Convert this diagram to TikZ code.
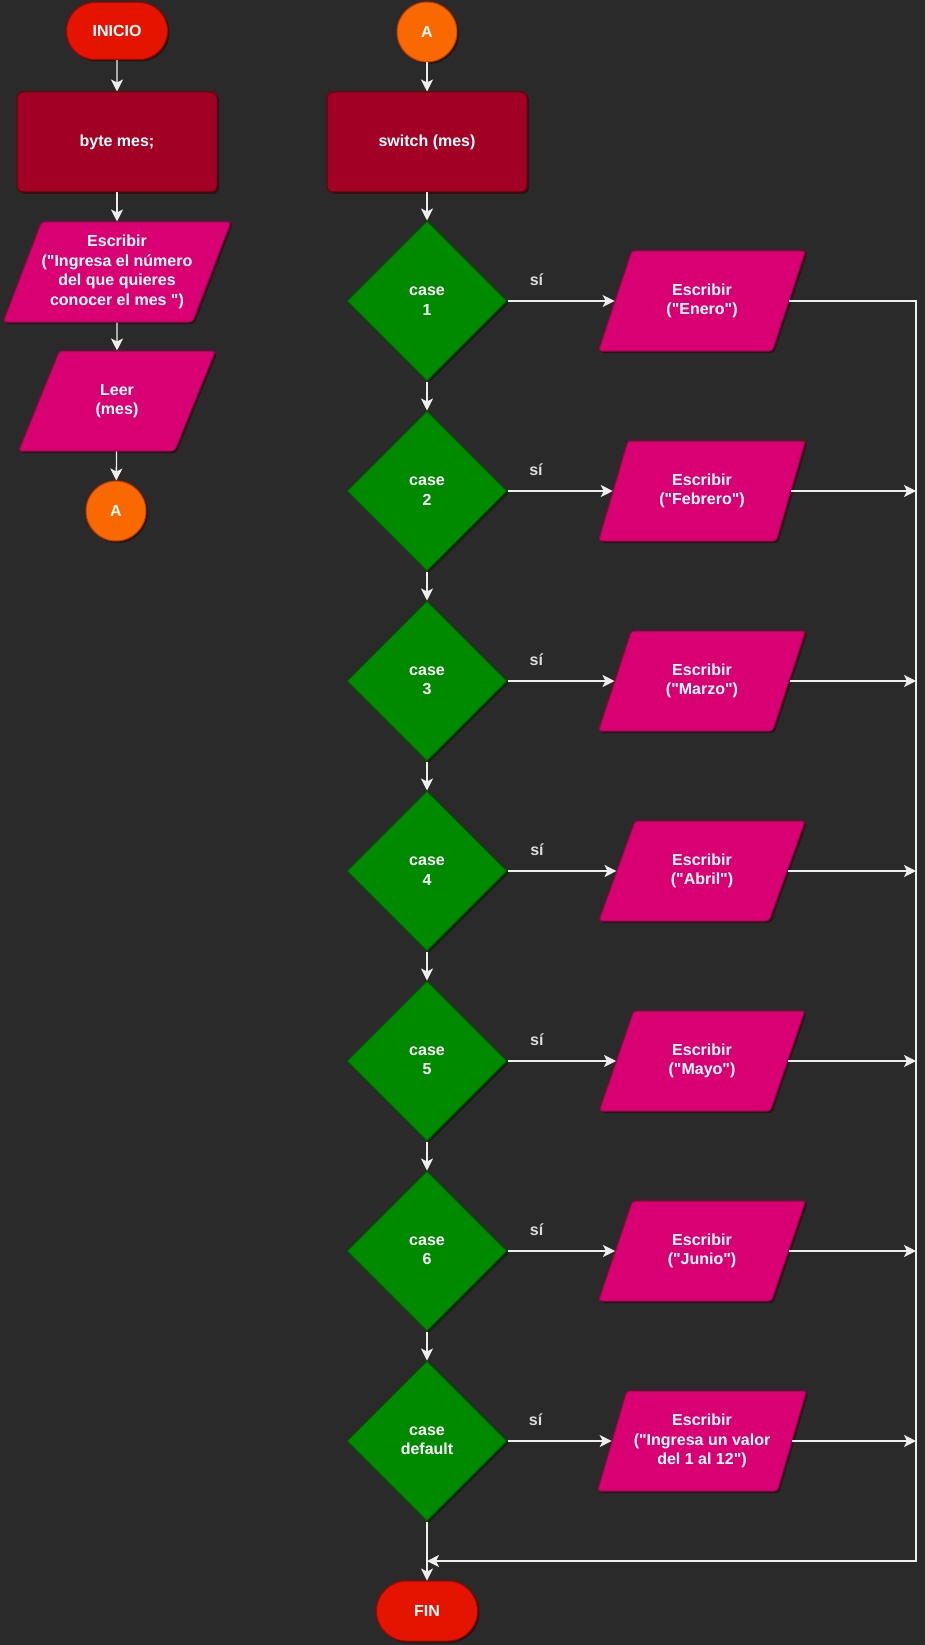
\documentclass[tikz,border=0pt]{standalone}
\usepackage{fontspec}
\setmainfont{Liberation Sans}[Ligatures=TeXOff]
\usetikzlibrary{shapes.geometric}
\usetikzlibrary{shapes.misc}
\usetikzlibrary{arrows.meta}
\usetikzlibrary{shadows}
\definecolor{bgdark}{HTML}{2A2A2A}
\definecolor{termfill}{HTML}{E51400}
\definecolor{termline}{HTML}{B20000}
\definecolor{procfill}{HTML}{A20025}
\definecolor{procline}{HTML}{6F0000}
\definecolor{iofill}{HTML}{D80073}
\definecolor{ioline}{HTML}{A50040}
\definecolor{casefill}{HTML}{008A00}
\definecolor{caseline}{HTML}{005700}
\definecolor{connfill}{HTML}{FA6800}
\definecolor{connline}{HTML}{C73500}
\definecolor{flowline}{HTML}{EEEEEE}
\definecolor{sigray}{HTML}{DDDDDD}
\tikzset{
	flownode/.style = {
		align=center,
		inner sep=0pt,
		text centered,
		text=white,
		font=\fontsize{16}{19.5}\selectfont\bfseries,
		line width=1pt,
		drop shadow={shadow xshift=2pt, shadow yshift=-2pt, opacity=0.35, fill=black}
	},
	node_term/.style = {
		flownode,
		rounded rectangle,
		fill=termfill,
		draw=termline,
		minimum width=101pt,
		minimum height=57pt
	},
	node_proc/.style = {
		flownode,
		rectangle,
		rounded corners=6pt,
		fill=procfill,
		draw=procline,
		minimum width=200pt,
		minimum height=100pt
	},
	node_io/.style = {
		flownode,
		trapezium,
		trapezium stretches=true,
		trapezium left angle=64,
		trapezium right angle=116,
		rounded corners=3pt,
		fill=iofill,
		draw=ioline,
		minimum width=207pt,
		minimum height=100pt
	},
	node_case/.style = {
		flownode,
		diamond,
		aspect=1,
		fill=casefill,
		draw=caseline,
		minimum width=160pt,
		minimum height=160pt
	},
	node_conn/.style = {
		flownode,
		circle,
		fill=connfill,
		draw=connline,
		minimum size=60pt
	},
	lbl_si/.style = {
		pos=0.27,
		yshift=21pt,
		text=sigray,
		font=\fontsize{16}{19.5}\selectfont\bfseries
	},
}
\begin{document}
\begin{tikzpicture}[x=1pt, y=-1pt, ->, >={Stealth[length=12pt, width=12pt, inset=3pt, fill=flowline]}, line width=1.3pt, color=flowline]
\fill [bgdark, -] (0,0) rectangle (925,1645);

% left column
\node [node_term] (inicio) at (117,31) {INICIO};
\node [node_proc] (decl) at (117,142) {byte mes;};
\node [node_io, minimum width=228pt, trapezium left angle=62.5, trapezium right angle=117.5] (pedir) at (117,272) {Escribir\\("Ingresa el número\\del que quieres\\conocer el mes ")};
\node [node_io, minimum width=197pt, trapezium left angle=66, trapezium right angle=114] (leer) at (117,401) {Leer\\(mes)};
\node [node_conn] (conA) at (116,511) {A};

% right column
\node [node_conn] (conB) at (427,32) {A};
\node [node_proc] (switch) at (427,142) {switch (mes)};
\node [node_case] (case1) at (427,301) {case\\1};
\node [node_case] (case2) at (427,491) {case\\2};
\node [node_case] (case3) at (427,681) {case\\3};
\node [node_case] (case4) at (427,871) {case\\4};
\node [node_case] (case5) at (427,1061) {case\\5};
\node [node_case] (case6) at (427,1251) {case\\6};
\node [node_case] (case7) at (427,1441) {case\\default};
\node [node_io] (out1) at (702,301) {Escribir\\("Enero")};
\node [node_io] (out2) at (702,491) {Escribir\\("Febrero")};
\node [node_io] (out3) at (702,681) {Escribir\\("Marzo")};
\node [node_io] (out4) at (702,871) {Escribir\\("Abril")};
\node [node_io] (out5) at (702,1061) {Escribir\\("Mayo")};
\node [node_io] (out6) at (702,1251) {Escribir\\("Junio")};
\node [node_io, minimum width=209pt] (out7) at (702,1441) {Escribir\\("Ingresa un valor\\del 1 al 12")};
\node [node_term, minimum height=60pt] (fin) at (427,1611) {FIN};
\coordinate (merge_r) at (916,1561);
\coordinate (merge_l) at (427,1561);

% main flow
\draw (inicio) -- (decl);
\draw (decl) -- (pedir);
\draw (pedir) -- (leer);
\draw (leer) -- (conA);
\draw (conB) -- (switch);
\draw (switch) -- (case1);
\draw (case1) -- (case2);
\draw (case2) -- (case3);
\draw (case3) -- (case4);
\draw (case4) -- (case5);
\draw (case5) -- (case6);
\draw (case6) -- (case7);
\draw (case7) -- (fin);

% cases
\draw (case1) -- node [lbl_si] {sí} (out1);
\draw (case2) -- node [lbl_si] {sí} (out2);
\draw (case3) -- node [lbl_si] {sí} (out3);
\draw (case4) -- node [lbl_si] {sí} (out4);
\draw (case5) -- node [lbl_si] {sí} (out5);
\draw (case6) -- node [lbl_si] {sí} (out6);
\draw (case7) -- node [lbl_si] {sí} (out7);

% back to FIN
\draw (out1.east) -| (merge_r) -- (merge_l);
\draw (out2.east) -- (out2.east -| merge_r);
\draw (out3.east) -- (out3.east -| merge_r);
\draw (out4.east) -- (out4.east -| merge_r);
\draw (out5.east) -- (out5.east -| merge_r);
\draw (out6.east) -- (out6.east -| merge_r);
\draw (out7.east) -- (out7.east -| merge_r);
\end{tikzpicture}
\end{document}
